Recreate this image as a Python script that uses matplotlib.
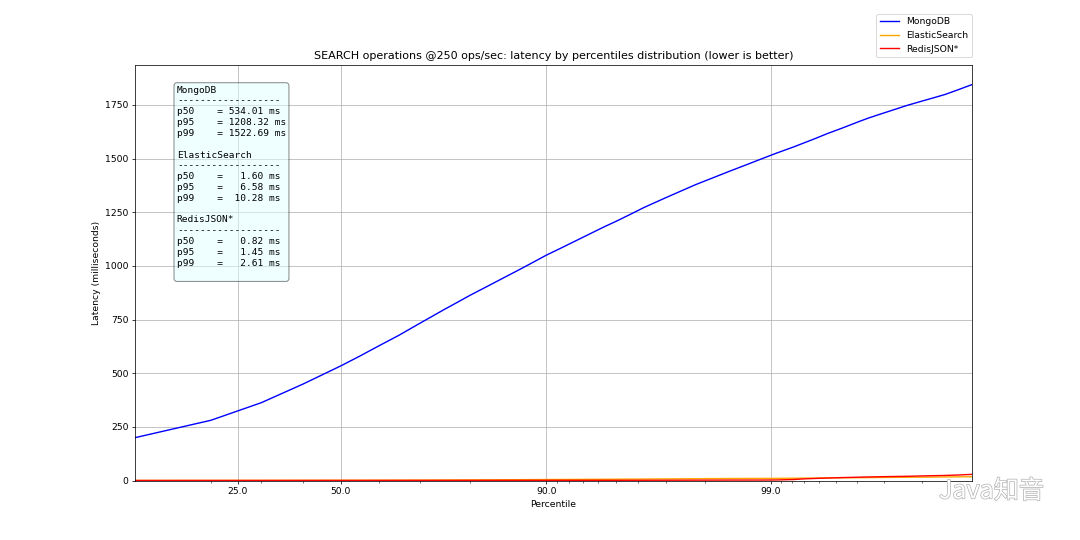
import matplotlib
matplotlib.use("Agg")
import matplotlib.pyplot as plt
import matplotlib.patheffects as pe
from matplotlib.ticker import FuncFormatter, NullFormatter

# percentile points (HdrHistogram style, fraction 0..1)
percentiles = [
    0.1, 0.2, 0.3, 0.4, 0.5, 0.55, 0.6, 0.65, 0.7, 0.75, 0.775, 0.8, 0.825,
    0.85, 0.875, 0.8875, 0.9, 0.9125, 0.925, 0.9375, 0.94375, 0.95, 0.95625,
    0.9625, 0.96875, 0.971875, 0.975, 0.978125, 0.98125, 0.984375, 0.985938,
    0.9875, 0.989062, 0.990625, 0.992188, 0.992969, 0.99375, 0.994531,
    0.995313, 0.996094, 0.996484, 0.996875, 0.997266, 0.997656, 0.998047,
    0.998242, 0.998437, 0.998633, 0.998828,
]

mongodb = [
    200, 281, 363, 449, 534, 579, 627, 676, 733, 795, 828, 864, 901,
    943, 991, 1019, 1050, 1081, 1117, 1159, 1183, 1208, 1238,
    1273, 1310, 1331, 1354, 1380, 1407, 1439, 1457,
    1477, 1500, 1526, 1555, 1573, 1593, 1617,
    1642, 1673, 1690, 1707, 1726, 1748, 1771,
    1784, 1799, 1820, 1845,
]

elasticsearch = [
    0.9, 1.0, 1.2, 1.4, 1.6, 1.75, 1.9, 2.1, 2.4, 2.7, 2.9, 3.2, 3.5,
    3.9, 4.4, 4.7, 5.0, 5.3, 5.6, 6.0, 6.3, 6.58, 6.9,
    7.3, 7.8, 8.1, 8.5, 8.9, 9.3, 9.6, 9.8,
    10.0, 10.2, 10.5, 11.0, 11.5, 12.0, 12.5,
    13.0, 13.5, 14.0, 14.5, 15.0, 15.5, 16.0,
    16.5, 17.0, 17.5, 18.0,
]

redisjson = [
    0.5, 0.6, 0.68, 0.75, 0.82, 0.86, 0.9, 0.95, 1.0, 1.07, 1.1, 1.15, 1.2,
    1.25, 1.3, 1.33, 1.36, 1.38, 1.4, 1.42, 1.44, 1.45, 1.5,
    1.6, 1.75, 1.85, 1.95, 2.1, 2.25, 2.4, 2.45,
    2.5, 2.58, 3.0, 5.0, 8.0, 10.0, 12.0,
    14.0, 16.0, 17.0, 18.0, 19.0, 20.0, 22.0,
    23.0, 24.0, 26.0, 29.0,
]

summary = {
    "MongoDB": (534.01, 1208.32, 1522.69),
    "ElasticSearch": (1.60, 6.58, 10.28),
    "RedisJSON*": (0.82, 1.45, 2.61),
}


def main():
    fig, ax = plt.subplots(figsize=(1080 / 67, 540 / 67), dpi=67)
    fig.subplots_adjust(left=0.125, right=0.9, top=0.88, bottom=0.11)

    ax.plot(percentiles, mongodb, color="blue", label="MongoDB")
    ax.plot(percentiles, elasticsearch, color="orange", label="ElasticSearch")
    ax.plot(percentiles, redisjson, color="red", label="RedisJSON*")

    ax.set_xscale("logit")
    ax.set_xlim(percentiles[0], percentiles[-1])
    ax.set_ylim(bottom=0)
    ax.set_xticks([0.25, 0.5, 0.9, 0.99])
    ax.xaxis.set_major_formatter(FuncFormatter(lambda x, pos: f"{x * 100:.1f}"))
    ax.xaxis.set_minor_formatter(NullFormatter())
    ax.grid(True)

    ax.set_title("SEARCH operations @250 ops/sec: latency by percentiles distribution (lower is better)")
    ax.set_xlabel("Percentile")
    ax.set_ylabel("Latency (milliseconds)")

    lines = []
    for name, (p50, p95, p99) in summary.items():
        lines.append(name)
        lines.append("-" * 18)
        lines.append(f"p50    = {p50:6.2f} ms")
        lines.append(f"p95    = {p95:6.2f} ms")
        lines.append(f"p99    = {p99:6.2f} ms")
        lines.append("")
    text = "\n".join(lines[:-1]) + "\n"
    ax.text(0.05, 0.95, text, transform=ax.transAxes, va="top",
            family="monospace", fontsize=10.2, linespacing=1.26,
            bbox=dict(boxstyle="round", facecolor="lightcyan", alpha=0.5))

    ax.legend(loc="upper right", bbox_to_anchor=(1.0, 1.123), borderaxespad=0)

    # watermark
    fig.text(0.967, 0.09, "Java知音", ha="right", va="center", fontsize=27,
             color="white", family=["Noto Sans CJK SC", "DejaVu Sans"],
             path_effects=[pe.withStroke(linewidth=1.5, foreground="#b0b0b0")])

    fig.savefig("out.png")


if __name__ == "__main__":
    main()
